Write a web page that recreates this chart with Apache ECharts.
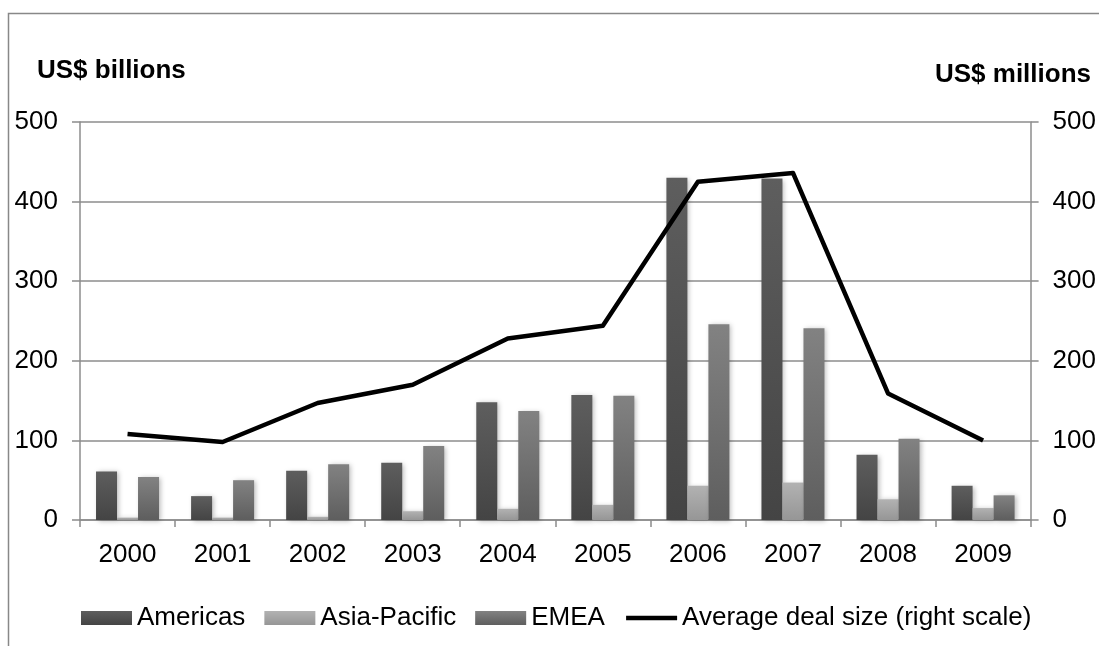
<!DOCTYPE html>
<html>
<head>
<meta charset="utf-8">
<script src="https://cdn.jsdelivr.net/npm/echarts@6/dist/echarts.min.js"></script>
<style>
  html, body { margin: 0; padding: 0; background: #ffffff; }
  #chart { width: 1099px; height: 646px; }
</style>
</head>
<body>
<div id="chart"></div>
<script>
// Deal value by region (US$ billions) and average deal size (US$ millions)
const years = ['2000', '2001', '2002', '2003', '2004', '2005', '2006', '2007', '2008', '2009'];
const americas    = [61, 30, 62, 72, 148, 157, 430, 429, 82, 43];
const asiaPacific = [3, 3, 4, 11, 14, 19, 43, 47, 26, 15];
const emea        = [54, 50, 70, 93, 137, 156, 246, 241, 102, 31];
const avgDealSize = [108, 98, 147, 170, 228, 244, 425, 436, 159, 100];
const yTicks = { min: 0, max: 500, interval: 100 };

const FONT = 'Liberation Sans, Arial, sans-serif';
const GRID_GRAY = '#8c8c8c';

function vgrad(top, bottom) {
  return new echarts.graphic.LinearGradient(0, 0, 0, 1, [
    { offset: 0, color: top },
    { offset: 1, color: bottom }
  ]);
}

function barSeries(name, data, top, bottom) {
  return {
    name: name,
    type: 'bar',
    data: data,
    barWidth: 21,
    barGap: '0%',
    itemStyle: {
      color: vgrad(top, bottom),
      shadowBlur: 5,
      shadowColor: 'rgba(0,0,0,0.28)',
      shadowOffsetX: 2,
      shadowOffsetY: 1
    },
    emphasis: { disabled: true }
  };
}

const chart = echarts.init(document.getElementById('chart'), null, { renderer: 'canvas' });

const valueAxisBase = {
  type: 'value',
  min: yTicks.min,
  max: yTicks.max,
  interval: yTicks.interval,
  axisLine: { show: true, lineStyle: { color: GRID_GRAY, width: 1.5 } },
  axisTick: { show: true, inside: false, length: 8, lineStyle: { color: GRID_GRAY, width: 1.5 } },
  axisLabel: { color: '#000', fontSize: 26, fontFamily: FONT, margin: 22 }
};

chart.setOption({
  animation: false,
  backgroundColor: '#ffffff',
  textStyle: { fontFamily: FONT },
  grid: { left: 80, right: 68, top: 122, bottom: 126, containLabel: false },
  graphic: [
    {
      type: 'polyline',
      shape: { points: [[8.5, 646], [8.5, 13.5], [1099, 13.5]] },
      style: { stroke: '#888888', lineWidth: 1.5, fill: null },
      silent: true
    },
    {
      type: 'text', left: 37, top: 58,
      style: { text: 'US$ billions', fontSize: 26, fontWeight: 'bold', fontFamily: FONT, fill: '#000' }
    },
    {
      type: 'text', right: 8, top: 62,
      style: { text: 'US$ millions', fontSize: 26, fontWeight: 'bold', fontFamily: FONT, fill: '#000' }
    }
  ],
  legend: {
    left: 76,
    top: 600,
    itemWidth: 51,
    itemHeight: 14,
    itemGap: 19,
    textStyle: { color: '#000', fontSize: 26, fontFamily: FONT },
    data: [
      { name: 'Americas', icon: 'rect' },
      { name: 'Asia-Pacific', icon: 'rect' },
      { name: 'EMEA', icon: 'rect' },
      {
        name: 'Average deal size (right scale)',
        itemStyle: { opacity: 0, color: 'rgba(0,0,0,0)', borderWidth: 0 },
        lineStyle: { width: 4.5, color: '#000000' }
      }
    ]
  },
  xAxis: {
    type: 'category',
    data: years,
    boundaryGap: true,
    axisLine: { show: true, lineStyle: { color: GRID_GRAY, width: 1.5 } },
    axisTick: { show: true, inside: false, length: 7, alignWithLabel: false, lineStyle: { color: GRID_GRAY, width: 1.5 } },
    axisLabel: { color: '#000', fontSize: 26, fontFamily: FONT, margin: 22 }
  },
  yAxis: [
    Object.assign({}, valueAxisBase, {
      position: 'left',
      splitLine: { show: true, lineStyle: { color: GRID_GRAY, width: 1.5 } }
    }),
    Object.assign({}, valueAxisBase, {
      position: 'right',
      splitLine: { show: false }
    })
  ],
  series: [
    barSeries('Americas', americas, '#5e5e5e', '#444444'),
    barSeries('Asia-Pacific', asiaPacific, '#b2b2b2', '#969696'),
    barSeries('EMEA', emea, '#828282', '#5e5e5e'),
    {
      name: 'Average deal size (right scale)',
      type: 'line',
      yAxisIndex: 1,
      data: avgDealSize,
      symbol: 'none',
      lineStyle: { color: '#000000', width: 4.5, join: 'round' },
      itemStyle: { color: '#000000' },
      emphasis: { disabled: true },
      z: 5
    }
  ]
});
</script>
</body>
</html>
